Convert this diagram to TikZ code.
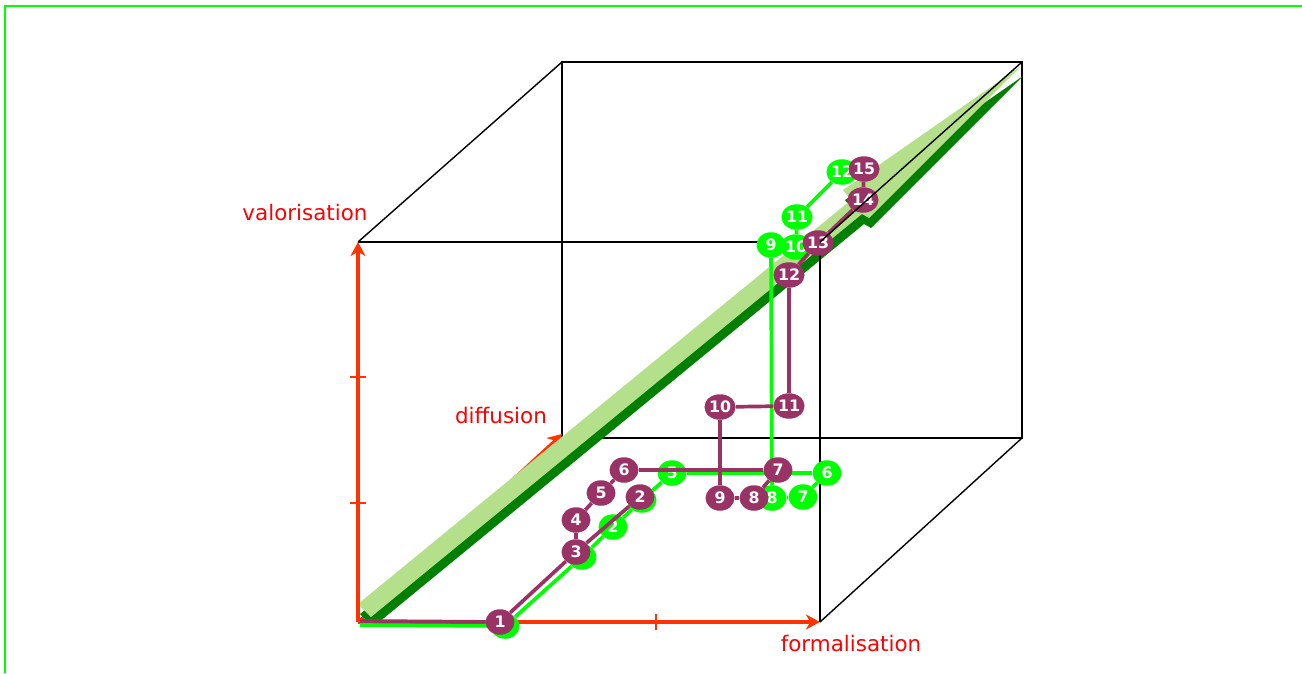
\documentclass[tikz,border=0pt]{standalone}
\usepackage{fontspec}
\setmainfont{DejaVu Sans}
\usepackage{xcolor}
\usepackage{tikz}
\usetikzlibrary{arrows.meta,shapes.geometric}

\definecolor{axisred}{HTML}{FF3300}
\definecolor{labelred}{HTML}{FF0000}
\definecolor{plum}{HTML}{993366}
\definecolor{lime}{HTML}{00FF00}
\definecolor{barlight}{HTML}{B5E08B}
\definecolor{bardark}{HTML}{007F00}

\begin{document}
\begin{tikzpicture}[
    x=0.02cm, y=-0.02cm,
    edge/.style={draw=black, line width=0.8pt},
    axis/.style={draw=axisred, line width=2pt, -{Stealth[length=8pt, width=8.5pt, inset=2.5pt]}},
    tick/.style={draw=axisred, line width=1.6pt},
    axislabel/.style={text=labelred, font=\fontsize{12.2}{14}\selectfont},
    gstep/.style={ellipse, fill=lime, minimum width=0.58cm, minimum height=0.51cm, inner sep=0pt, text=white, font=\fontsize{9}{10}\selectfont\bfseries},
    pstep/.style={gstep, fill=plum},
    gpath/.style={draw=lime, line width=2.1pt},
    ppath/.style={draw=plum, line width=2.1pt}
]

\useasboundingbox (0,0) rectangle (1302,673);
\draw[lime, line width=1.4pt] (5,673) -- (5,6) -- (1302,6);

\coordinate (fbl) at (358,622);
\coordinate (ftl) at (358,242);
\coordinate (ftr) at (820,242);
\coordinate (fbr) at (820,622);
\coordinate (btl) at (562,62);
\coordinate (btr) at (1022,62);
\coordinate (bbr) at (1022,438);
\coordinate (bbl) at (562,438);
\coordinate (difftip) at (562,434);

\draw[edge] (btl) -- (btr) -- (bbr) -- (bbl) -- cycle;
\draw[axis, line width=1.6pt] (fbl) -- (difftip);

\begin{scope}[shift={(2,10)}]
\fill[bardark] (358,604) -- (851,200) -- (843,190) -- (1021,66) -- (869,218) -- (862,214) -- (371,617) -- cycle;
\end{scope}
\fill[barlight] (358,604) -- (851,200) -- (843,190) -- (1021,66) -- (869,218) -- (862,214) -- (371,617) -- cycle;

\draw[edge] (ftl) -- (ftr) -- (fbr);
\draw[edge] (ftl) -- (btl);
\draw[edge] (fbr) -- (bbr);

\draw[axis] (fbl) -- (ftl);
\draw[axis] (fbl) -- (fbr);
\foreach \y in {377, 503} { \draw[tick] (350,\y) -- (366,\y); }
\draw[tick] (656,614) -- (656,630);

\node[axislabel] (valo) at (305,213) {valorisation};
\node[axislabel] (diff) at (501,416) {diffusion};
\node[axislabel] (form) at (851,643) {formalisation};

\coordinate (gstart) at (360,625);
\foreach \n/\x/\y/\t in {1/505/626/, 3/582/557/, 2/613/527/2, 4/642/500/, 5/672/473/5, 6/827/473/6, 7/803/497/7,
    8/772/498/8, 9/771/245/9, 10/796/247/10, 11/797/217/11, 12/842/172/12}
    { \node[gstep] (g\n) at (\x,\y) {\t}; }
\draw[gpath] (gstart) -- (g1);
\foreach \a/\b in {1/3, 3/2, 2/4, 4/5, 5/6, 6/7, 7/8, 8/9, 9/10, 10/11, 11/12}
    { \draw[gpath] (g\a) -- (g\b); }

\coordinate (pstart) at (360,621);
\foreach \n/\x/\y in {1/500/622, 2/640/497, 3/576/552, 4/576/520, 5/601/493, 6/624/470, 7/778/470,
    8/754/498, 9/720/498, 10/720/407, 11/789/406, 12/789/275, 13/818/243, 14/863/200, 15/864/169}
    { \node[pstep] (p\n) at (\x,\y) {\n}; }
\draw[ppath] (pstart) -- (p1);
\foreach \a/\b in {1/3, 3/2, 3/4, 4/5, 5/6, 6/7, 7/8, 8/9, 9/10, 10/11, 11/12, 12/13, 13/14, 14/15}
    { \draw[ppath] (p\a) -- (p\b); }

\draw[edge] (ftr) -- (btr);

\end{tikzpicture}
\end{document}
